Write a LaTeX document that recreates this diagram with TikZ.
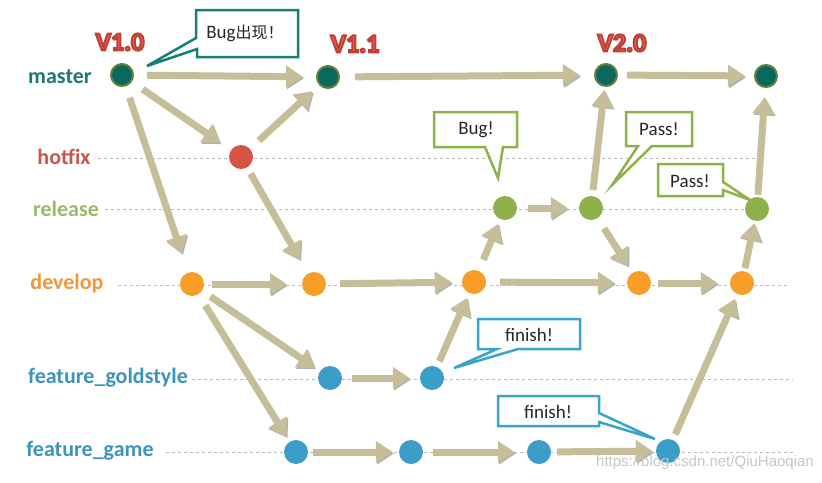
\documentclass[tikz,border=0pt]{standalone}
\usepackage{fontspec}
\setmainfont{Carlito}
\newfontfamily\cjk{Noto Sans CJK SC}
\newfontfamily\wmfont{Liberation Sans}
\usetikzlibrary{arrows.meta}
\definecolor{khaki}{RGB}{198,190,152}
\definecolor{mteal}{RGB}{10,104,96}
\definecolor{mring}{RGB}{98,128,58}
\definecolor{hred}{RGB}{214,84,70}
\definecolor{rgreen}{RGB}{141,176,74}
\definecolor{dorange}{RGB}{247,158,40}
\definecolor{fblue}{RGB}{58,158,200}
\definecolor{lteal}{RGB}{30,122,112}
\definecolor{lred}{RGB}{200,86,76}
\definecolor{lgreen}{RGB}{156,184,106}
\definecolor{lorange}{RGB}{240,152,58}
\definecolor{lblue}{RGB}{61,148,186}
\definecolor{cteal}{RGB}{20,128,116}
\definecolor{cgreen}{RGB}{140,178,72}
\definecolor{cblue}{RGB}{56,164,200}
\definecolor{vred}{RGB}{232,104,92}
\newcommand\outlined[1]{\special{pdf:literal direct 2 Tr 2 w 0.75 0.25 0.2 RG}#1\special{pdf:literal direct 0 Tr}}
\tikzset{
  commit/.style={circle, minimum size=24pt, inner sep=0pt},
  mcommit/.style={commit, fill=mteal, draw=mring, line width=2pt, minimum size=22pt},
  lane/.style={draw=gray!55, line width=0.9pt, dash pattern=on 3pt off 3pt},
  branchlbl/.style={font=\fontsize{22}{22}\selectfont\bfseries, inner sep=0pt},
  flow/.style={draw=khaki, line width=7pt, -{Triangle[width=21pt,length=17pt]},
    shorten <=9pt, shorten >=7pt,
    preaction={draw=black!30, transform canvas={shift={(1.2,1.5)}}}},
  callout/.style={line width=2.5pt, fill=white, line join=miter},
  calltext/.style={font=\fontsize{19}{19}\selectfont, text=black!85, inner sep=0pt},
  version/.style={font=\fontsize{26}{26}\selectfont\bfseries, text=vred, inner sep=0pt}
}
\begin{document}
\begin{tikzpicture}[x=1pt,y=-1pt]
\useasboundingbox (0,0) rectangle (822,482);
% branch labels
\node[branchlbl, text=lteal] (Lm) at (60,77) {master};
\node[branchlbl, text=lred] (Lh) at (64,157) {hotfix};
\node[branchlbl, text=lgreen] (Lr) at (66,209) {release};
\node[branchlbl, text=lorange] (Ld) at (67,284) {develop};
\node[branchlbl, text=lblue] (Lg) at (108,378) {feature\_goldstyle};
\node[branchlbl, text=lblue] (Lf) at (90,451) {feature\_game};
% lane ends
\coordinate (Eh) at (760,158);
\coordinate (Er) at (758,209);
\coordinate (Ed) at (787,285);
\coordinate (Eg) at (793,379);
\coordinate (Ef) at (793,452);
\draw[lane] (98,158) -- (Eh);
\draw[lane] (105,209) -- (Er);
\draw[lane] (118,285) -- (Ed);
\draw[lane] (192,379) -- (Eg);
\draw[lane] (166,452) -- (Ef);
% commits
\node[mcommit] (M1) at (122,75) {};
\node[mcommit] (M2) at (328,77) {};
\node[mcommit] (M3) at (606,75) {};
\node[mcommit] (M4) at (766,76) {};
\node[commit, fill=hred] (H) at (241,157) {};
\node[commit, fill=rgreen] (R1) at (505,208) {};
\node[commit, fill=rgreen] (R2) at (591,208) {};
\node[commit, fill=rgreen] (R3) at (757,209) {};
\node[commit, fill=dorange] (D1) at (192,284) {};
\node[commit, fill=dorange] (D2) at (314,284) {};
\node[commit, fill=dorange] (D3) at (474,282) {};
\node[commit, fill=dorange] (D4) at (639,283) {};
\node[commit, fill=dorange] (D5) at (742,283) {};
\node[commit, fill=fblue] (G1) at (330,378) {};
\node[commit, fill=fblue] (G2) at (432,378) {};
\node[commit, fill=fblue] (F1) at (296,452) {};
\node[commit, fill=fblue] (F2) at (411,452) {};
\node[commit, fill=fblue] (F3) at (539,452) {};
\node[commit, fill=fblue] (F4) at (668,451) {};
% versions
\node[version] (V10) at (120,42) {\outlined{V1.0}};
\node[version] (V11) at (355,44) {\outlined{V1.1}};
\node[version] (V20) at (622,43) {\outlined{V2.0}};
% flows
\draw[flow, shorten <=13pt, shorten >=13pt] (M1) -- (M2);
\draw[flow, shorten <=15pt, shorten >=14pt] (M2) -- (M3);
\draw[flow, shorten <=9pt, shorten >=9pt] (M3) -- (M4);
\draw[flow, shorten <=13pt, shorten >=13pt] (M1) -- (H);
\draw[flow, shorten <=12pt, shorten >=9pt] (H) -- (M2);
\draw[flow, shorten <=12pt, shorten >=20pt] (M1) -- (D1);
\draw[flow, shorten <=7pt, shorten >=16pt] (H) -- (D2);
\draw[flow, shorten <=8pt, shorten >=15pt] (D1) -- (D2);
\draw[flow, shorten <=14pt, shorten >=10pt] (D2) -- (D3);
\draw[flow, shorten <=12pt, shorten >=5pt] (D3) -- (R1);
\draw[flow, shorten <=11pt, shorten >=11pt] (R1) -- (R2);
\draw[flow, shorten <=6pt, shorten >=3pt] (R2) -- (M3);
\draw[flow, shorten <=12pt, shorten >=8pt] (R2) -- (D4);
\draw[flow, shorten <=14pt, shorten >=12pt] (D3) -- (D4);
\draw[flow, shorten <=7pt, shorten >=12pt] (D4) -- (D5);
\draw[flow, shorten <=3pt, shorten >=2pt] (D5) -- (R3);
\draw[flow, shorten <=2pt, shorten >=9pt] (R3) -- (M4);
\draw[flow, shorten <=10pt, shorten >=6pt] (D1) -- (G1);
\draw[flow, shorten <=13pt, shorten >=6pt] (D1) -- (F1);
\draw[flow, shorten <=10pt, shorten >=10pt] (G1) -- (G2);
\draw[flow, shorten <=6pt, shorten >=5pt] (G2) -- (D3);
\draw[flow, shorten <=5pt, shorten >=6pt] (F1) -- (F2);
\draw[flow, shorten <=10pt, shorten >=12pt] (F2) -- (F3);
\draw[flow, shorten <=6pt, shorten >=3pt] (F3) -- (F4);
\draw[flow, shorten <=6pt, shorten >=5pt] (F4) -- (D5);
% callouts
\draw[callout, draw=cteal] (196,10) -- (298,10) -- (298,57) -- (197,57) -- (197,49) -- (147,66) -- (196,38) -- cycle;
\node[calltext] (cB) at (245,33) {Bug{\cjk\fontsize{16}{16}\selectfont 出现！}};
\draw[callout, draw=cgreen] (434,112) -- (517,112) -- (517,147) -- (503,147) -- (498,178) -- (485,147) -- (434,147) -- cycle;
\node[calltext] (cBug) at (476,130) {Bug!};
\draw[callout, draw=cgreen] (626,112) -- (692,112) -- (692,146) -- (652,146) -- (612,185) -- (638,146) -- (626,146) -- cycle;
\node[calltext] (cP1) at (659,129) {Pass!};
\draw[callout, draw=cgreen] (658,164) -- (723,164) -- (723,182) -- (750,200) -- (723,190) -- (723,196) -- (658,196) -- cycle;
\node[calltext] (cP2) at (690,181) {Pass!};
\draw[callout, draw=cblue] (478,319) -- (580,319) -- (580,349) -- (518,349) -- (454,368) -- (497,349) -- (478,349) -- cycle;
\node[calltext] (cF1) at (529,335) {finish!};
\draw[callout, draw=cblue] (498,396) -- (599,396) -- (599,413) -- (655,439) -- (599,422) -- (599,426) -- (498,426) -- cycle;
\node[calltext] (cF2) at (548,412) {finish!};
% watermark
\node[font=\wmfont\fontsize{15}{15}\selectfont, text=gray!45, anchor=east, inner sep=0pt] (wm) at (814,463) {https://blog.csdn.net/QiuHaoqian};
\end{tikzpicture}
\end{document}
